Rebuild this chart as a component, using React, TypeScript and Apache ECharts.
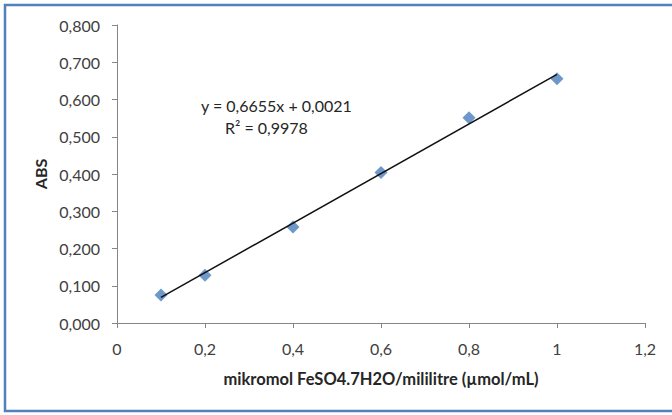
import React, { useEffect, useRef } from "react";
import * as echarts from "echarts";

const xValues = [0.1, 0.2, 0.4, 0.6, 0.8, 1.0];
const absValues = [0.075, 0.128, 0.258, 0.404, 0.551, 0.656];
const slope = 0.6655;
const intercept = 0.0021;
const equationText = "y = 0,6655x + 0,0021";
const r2Text = "R² = 0,9978";
const xAxisName = "mikromol FeSO4.7H2O/mililitre (µmol/mL)";
const yAxisName = "ABS";

const FONT = "Lato, 'Open Sans', sans-serif";

export default function App() {
  const ref = useRef<HTMLDivElement>(null);
  useEffect(() => {
    if (!ref.current) return;
    const chart = echarts.init(ref.current, undefined, { renderer: "svg" });
    const xMin = Math.min(...xValues);
    const xMax = Math.max(...xValues);
    const trend = [
      [xMin, slope * xMin + intercept],
      [xMax, slope * xMax + intercept],
    ];
    chart.setOption({
      animation: false,
      backgroundColor: "#ffffff",
      textStyle: { fontFamily: FONT },
      grid: { left: 117, right: 27, top: 25, bottom: 92, containLabel: false },
      xAxis: {
        type: "value",
        min: 0,
        max: 1.2,
        interval: 0.2,
        name: xAxisName,
        nameLocation: "middle",
        nameGap: 47,
        nameTextStyle: { fontFamily: FONT, fontSize: 16.5, fontWeight: "bold", color: "#262626" },
        axisLine: { show: true, lineStyle: { color: "#868686", width: 1 } },
        axisTick: { show: true, inside: false, length: 5, lineStyle: { color: "#868686" } },
        splitLine: { show: false },
        axisLabel: {
          margin: 17,
          fontFamily: FONT,
          fontSize: 16,
          color: "#404040",
          formatter: (v: number) => (Math.round(v * 10) / 10).toString().replace(".", ","),
        },
      },
      yAxis: {
        type: "value",
        min: 0,
        max: 0.8,
        interval: 0.1,
        name: yAxisName,
        nameLocation: "middle",
        nameGap: 69,
        nameRotate: 90,
        nameTextStyle: { fontFamily: FONT, fontSize: 16, fontWeight: "bold", color: "#262626" },
        axisLine: { show: true, lineStyle: { color: "#868686", width: 1 } },
        axisTick: { show: true, inside: false, length: 5, lineStyle: { color: "#868686" } },
        splitLine: { show: false },
        axisLabel: {
          margin: 17,
          fontFamily: FONT,
          fontSize: 16,
          color: "#404040",
          formatter: (v: number) => v.toFixed(3).replace(".", ","),
        },
      },
      graphic: [
        {
          type: "rect",
          shape: { x: 5, y: 5, width: 700, height: 406 },
          style: { fill: "none", stroke: "#4f81bd", lineWidth: 2.5 },
          z: 100,
        },
        {
          type: "text",
          x: 201,
          y: 105,
          style: {
            text: equationText,
            fontFamily: FONT,
            fontSize: 16,
            fill: "#262626",
            verticalAlign: "middle",
          },
        },
        {
          type: "text",
          x: 225,
          y: 127,
          style: {
            text: r2Text,
            fontFamily: FONT,
            fontSize: 16,
            fill: "#262626",
            verticalAlign: "middle",
          },
        },
      ],
      series: [
        {
          type: "line",
          data: trend,
          showSymbol: false,
          symbol: "none",
          lineStyle: { color: "#111111", width: 1.5 },
          z: 3,
        },
        {
          type: "scatter",
          data: xValues.map((x, i) => [x, absValues[i]]),
          symbol: "diamond",
          symbolSize: 13,
          itemStyle: { color: "#4a7ebb" },
          z: 2,
        },
      ],
    });
    return () => chart.dispose();
  }, []);
  return (
    <div
      ref={ref}
      style={{ position: "fixed", left: 0, top: 0, width: 672, height: 415 }}
    />
  );
}
